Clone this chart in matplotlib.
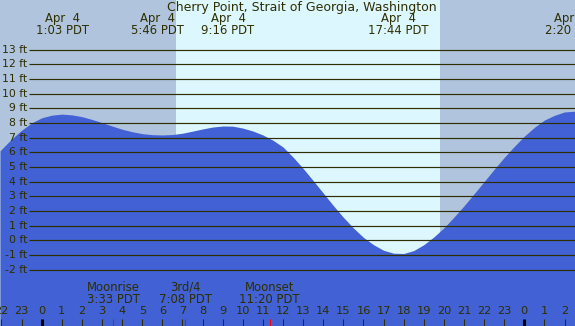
import matplotlib
matplotlib.use("Agg")
import matplotlib.pyplot as plt

# ---- data ----
title = "Cherry Point, Strait of Georgia, Washington"
hours = [-2.07, -2.0, -1.5, -1.0, -0.5, 0.0, 0.5, 1.0, 1.5, 2.0, 2.5, 3.0, 3.5,
         4.0, 4.5, 5.0, 5.5, 6.0, 6.5, 7.0, 7.5, 8.0, 8.5, 9.0, 9.5, 10.0, 10.5,
         11.0, 11.5, 12.0, 12.5, 13.0, 13.5, 14.0, 14.5, 15.0, 15.5, 16.0, 16.5,
         17.0, 17.5, 18.0, 18.5, 19.0, 19.5, 20.0, 20.5, 21.0, 21.5, 22.0, 22.5,
         23.0, 23.5, 24.0, 24.5, 25.0, 25.5, 26.0, 26.52]
heights = [6.1, 6.2, 6.9, 7.5, 8.0, 8.35, 8.53, 8.6, 8.55, 8.43, 8.24, 8.02, 7.79,
           7.57, 7.40, 7.27, 7.20, 7.18, 7.21, 7.30, 7.44, 7.59, 7.72, 7.79, 7.78,
           7.65, 7.45, 7.18, 6.82, 6.36, 5.67, 4.9, 4.07, 3.22, 2.37, 1.57, 0.84,
           0.2, -0.3, -0.68, -0.88, -0.9, -0.7, -0.3, 0.23, 0.85, 1.58, 2.35, 3.17,
           4.0, 4.84, 5.65, 6.4, 7.1, 7.7, 8.2, 8.52, 8.75, 8.8]
extreme_times = [1.05, 5.767, 9.267, 17.733, 26.333]
extreme_labels = ["Apr  4\n1:03 PDT", "Apr  4\n5:46 PDT", "Apr  4\n9:16 PDT",
                  "Apr  4\n17:44 PDT", "Apr  4\n2:20 PDT"]
moon_times = [3.55, 7.133, 11.333]
moon_labels = ["Moonrise\n3:33 PDT", "3rd/4\n7:08 PDT", "Moonset\n11:20 PDT"]
sunrise, sunset = 6.68, 19.81
ft_levels = list(range(-2, 14))
hour_ticks = list(range(-2, 27))

# ---- layout ----
W, H = 575, 326
PXH = 20.11   # pixels per hour
PXF = 14.67   # pixels per foot
fig = plt.figure(figsize=(W / 100, H / 100), dpi=100)
ax = fig.add_axes([0, 0, 1, 1])
x0 = -41.7 / PXH
x1 = (W - 41.7) / PXH
ax.set_xlim(x0, x1)
ytop = 240.3 / PXF
ybot = (240.3 - H) / PXF
ax.set_ylim(ybot, ytop)
ax.axis("off")

night = "#B0C4DE"
day = "#DDF7FE"
water = "#4161D4"
ink = "#2E2E00"

ax.axvspan(x0, sunrise, color=night, zorder=0, lw=0)
ax.axvspan(sunrise, sunset, color=day, zorder=0, lw=0)
ax.axvspan(sunset, x1, color=night, zorder=0, lw=0)

ax.fill_between(hours, heights, ybot, color=water, lw=0, zorder=1)

fam = "DejaVu Sans"
gx = x0 + 29 / PXH
for lv in ft_levels:
    ax.plot([gx, x1], [lv, lv], color=ink, lw=0.85, zorder=2, solid_capstyle="butt")
    ax.text(x0 + 27 / PXH, lv, f"{lv} ft", ha="right", va="center",
            family=fam, fontsize=7.8, color=ink, zorder=3)

ax.text(x0 + 302 / PXH, ytop - 7.5 / PXF, title, ha="center", va="center",
        family=fam, fontsize=9.0, color=ink)
for t, lab in zip(extreme_times, extreme_labels):
    ax.text(t, ytop - 24.5 / PXF, lab, ha="center", va="center", linespacing=0.95,
            family=fam, fontsize=8.4, color=ink)
for t, lab in zip(moon_times, moon_labels):
    ax.text(t, ytop - 293.5 / PXF, lab, ha="center", va="center", linespacing=0.95,
            family=fam, fontsize=8.4, color=ink)

for h in hour_ticks:
    ax.text(h, ytop - 311.5 / PXF, str(h % 24), ha="center", va="center",
            family=fam, fontsize=8.2, color=ink)
    midnight = h % 24 == 0
    ax.plot([h, h], [ybot, ybot + 7 / PXF], color="black" if midnight else ink,
            lw=2.2 if midnight else 0.75, zorder=3, solid_capstyle="butt")
for t in moon_times:
    ax.plot([t, t], [ybot, ybot + 7 / PXF], color="red", lw=0.75, zorder=3,
            solid_capstyle="butt")

fig.savefig("out.png", dpi=100)
